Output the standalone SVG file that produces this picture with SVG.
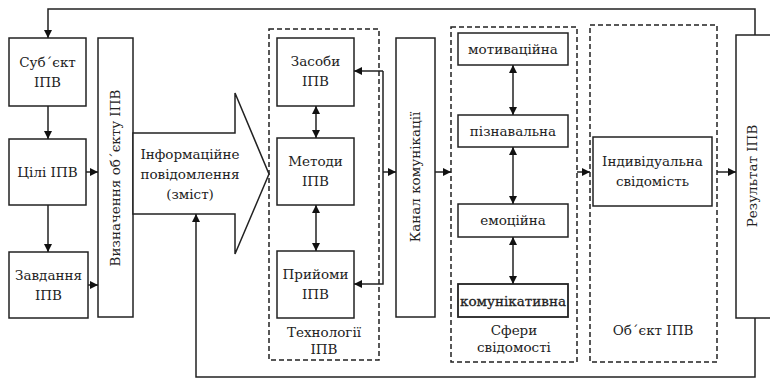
<svg xmlns="http://www.w3.org/2000/svg" width="770" height="380" viewBox="0 0 770 380">
<defs>
<marker id="ah" viewBox="0 0 10 10" refX="10" refY="5" markerWidth="8" markerHeight="8" markerUnits="userSpaceOnUse" orient="auto-start-reverse">
<path d="M0,0 L10,5 L0,10 z" fill="#111"/>
</marker>
<style>
.box{fill:#fff;stroke:#222;stroke-width:1.5}
.grp{fill:none;stroke:#222;stroke-width:1.5;stroke-dasharray:5,3}
.ln{fill:none;stroke:#222;stroke-width:1.5}
.t{font-family:"DejaVu Serif",serif;font-size:13.5px;fill:#222;text-anchor:middle}
</style>
</defs>
<rect width="770" height="380" fill="#fff"/>
<g id="groups">
<rect class="grp" x="269" y="29" width="110" height="331"/>
<rect class="grp" x="451" y="27" width="126" height="335"/>
<rect class="grp" x="590" y="25" width="127" height="337"/>
<text class="t" x="324" y="337">Технології</text>
<text class="t" x="324" y="354">ІПВ</text>
<text class="t" x="514" y="335">Сфери</text>
<text class="t" x="514" y="352">свідомості</text>
<text class="t" x="653" y="335">Об΄єкт ІПВ</text>
</g>

<g id="subject"><rect class="box" x="9" y="38" width="77" height="68"/>
<text class="t" x="47.5" y="67">Суб΄єкт</text><text class="t" x="47.5" y="87">ІПВ</text></g>
<g id="goals"><rect class="box" x="9" y="139" width="77" height="66"/>
<text class="t" x="47.5" y="177">Цілі ІПВ</text></g>
<g id="tasks"><rect class="box" x="9" y="252" width="79" height="66"/>
<text class="t" x="48.5" y="280">Завдання</text><text class="t" x="48.5" y="300">ІПВ</text></g>
<g id="define"><rect class="box" x="98" y="38" width="35" height="279"/>
<text class="t" transform="translate(120,178) rotate(-90)">Визначення об΄єкту ІПВ</text></g>
<g id="message"><path class="box" d="M133,133 H235 V93 L269,174 L235,254 V214 H133 Z"/>
<text class="t" x="190" y="159">Інформаційне</text>
<text class="t" x="190" y="179">повідомлення</text>
<text class="t" x="190" y="199">(зміст)</text></g>

<g id="means"><rect class="box" x="277" y="38" width="77" height="68"/>
<text class="t" x="315.5" y="66">Засоби</text><text class="t" x="315.5" y="86">ІПВ</text></g>
<g id="methods"><rect class="box" x="277" y="138" width="77" height="67"/>
<text class="t" x="315.5" y="166">Методи</text><text class="t" x="315.5" y="186">ІПВ</text></g>
<g id="techniques"><rect class="box" x="277" y="251" width="77" height="67"/>
<text class="t" x="315.5" y="279">Прийоми</text><text class="t" x="315.5" y="299">ІПВ</text></g>

<g id="channel"><rect class="box" x="396" y="38" width="39" height="279"/>
<text class="t" transform="translate(420,177) rotate(-90)">Канал комунікації</text></g>

<g id="motiv"><rect class="box" x="458" y="33" width="110" height="32"/>
<text class="t" x="513" y="54">мотиваційна</text></g>
<g id="cogn"><rect class="box" x="458" y="115" width="110" height="32"/>
<text class="t" x="513" y="136">пізнавальна</text></g>
<g id="emot"><rect class="box" x="458" y="204" width="110" height="33"/>
<text class="t" x="513" y="225">емоційна</text></g>
<g id="comm"><rect class="box" x="458" y="284" width="110" height="33" style="stroke-width:1.8"/>
<text class="t" x="513" y="306" style="stroke:#222;stroke-width:0.3">комунікативна</text></g>

<g id="individual"><rect class="box" x="593" y="137" width="119" height="69"/>
<text class="t" x="652.5" y="166">Індивідуальна</text><text class="t" x="652.5" y="186">свідомість</text></g>

<g id="result"><rect class="box" x="736" y="35" width="44" height="283"/>
<text class="t" transform="translate(757,176) rotate(-90)">Результат ІПВ</text></g>

<g id="connectors">
<path class="ln" d="M755,35 V9 H48 V38" marker-end="url(#ah)"/>
<path class="ln" d="M48,106 V139" marker-end="url(#ah)"/>
<path class="ln" d="M48,205 V252" marker-end="url(#ah)"/>
<path class="ln" d="M86,172 H98" marker-end="url(#ah)"/>
<path class="ln" d="M88,285 H98" marker-end="url(#ah)"/>
<path class="ln" d="M755,318 V377 H196 V214" marker-end="url(#ah)"/>
<path class="ln" d="M316,106 V138" marker-start="url(#ah)" marker-end="url(#ah)"/>
<path class="ln" d="M316,205 V251" marker-start="url(#ah)" marker-end="url(#ah)"/>
<path class="ln" d="M383,71 H354" marker-end="url(#ah)"/>
<path class="ln" d="M383,71 V284 H354" marker-end="url(#ah)"/>
<path class="ln" d="M383,172 H396" marker-end="url(#ah)"/>
<path class="ln" d="M435,172 H451" marker-end="url(#ah)"/>
<path class="ln" d="M513,65 V115" marker-start="url(#ah)" marker-end="url(#ah)"/>
<path class="ln" d="M513,147 V204" marker-start="url(#ah)" marker-end="url(#ah)"/>
<path class="ln" d="M513,237 V284" marker-start="url(#ah)" marker-end="url(#ah)"/>
<path class="ln" d="M577,172 H590" marker-end="url(#ah)"/>
<path class="ln" d="M717,172 H736" marker-end="url(#ah)"/>
</g>
</svg>
